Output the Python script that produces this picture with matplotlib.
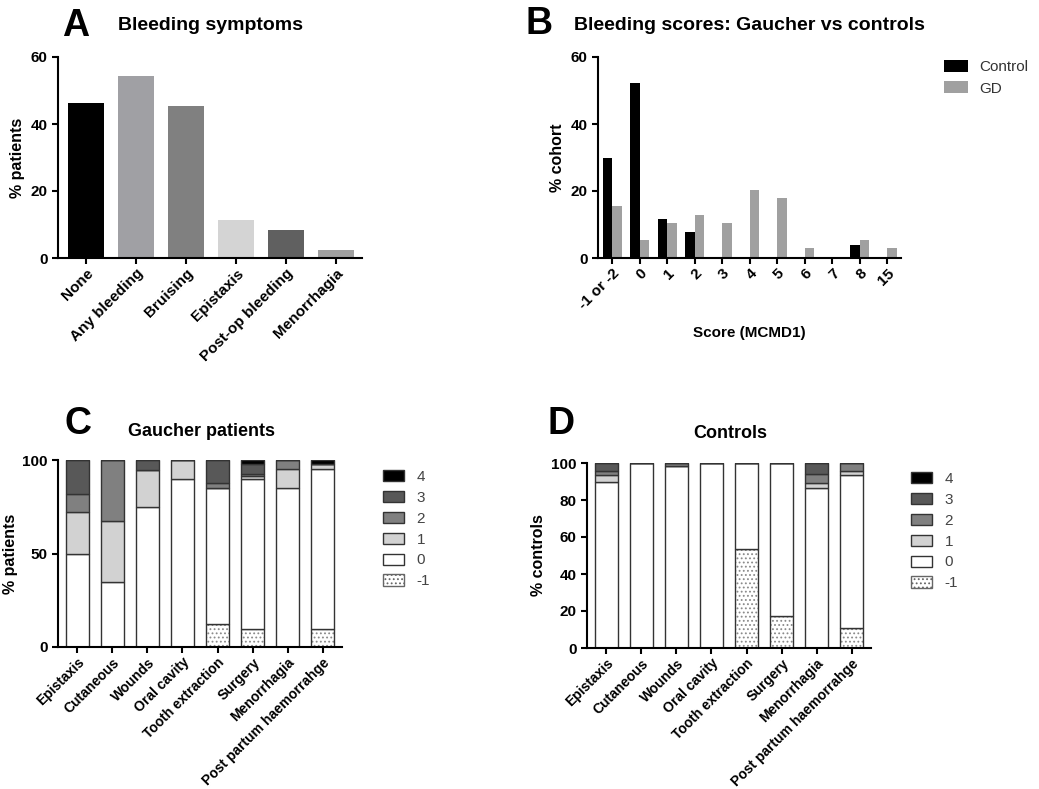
import matplotlib
matplotlib.use("Agg")
import matplotlib.pyplot as plt
import numpy as np
from matplotlib.patches import Patch

plt.rcParams['font.family'] = ['Liberation Sans', 'DejaVu Sans']
plt.rcParams['hatch.linewidth'] = 0.8

# panel A data
symptoms = ['None', 'Any bleeding', 'Bruising', 'Epistaxis', 'Post-op bleeding', 'Menorrhagia']
symptom_pct = [46.4, 54.2, 45.3, 11.3, 8.3, 2.4]
symptom_colors = ['#000000', '#a0a0a4', '#808080', '#d4d4d4', '#606060', '#a0a0a0']

# panel B data
scores = ['-1 or -2', '0', '1', '2', '3', '4', '5', '6', '7', '8', '15']
control_pct = [29.9, 52.1, 11.7, 7.8, 0, 0, 0, 0, 0, 4.0, 0]
gd_pct = [15.4, 5.5, 10.4, 12.8, 10.4, 20.3, 17.9, 3.0, 0, 5.5, 3.0]

# panels C and D data (score levels -1..4 stacked)
sites = ['Epistaxis', 'Cutaneous', 'Wounds', 'Oral cavity', 'Tooth extraction',
         'Surgery', 'Menorrhagia', 'Post partum haemorrahge']
levels = ['-1', '0', '1', '2', '3', '4']
gaucher = {
    '-1': [0, 0, 0, 0, 12.1, 9.5, 0, 9.5],
    '0':  [50.0, 34.8, 75.0, 90.0, 72.7, 80.5, 85.2, 85.9],
    '1':  [22.0, 32.6, 19.7, 10.0, 0, 1.2, 10.2, 2.3],
    '2':  [10.0, 32.6, 0, 0, 3.0, 1.3, 4.6, 0],
    '3':  [18.0, 0, 5.3, 0, 12.2, 5.3, 0, 0],
    '4':  [0, 0, 0, 0, 0, 2.2, 0, 2.3],
}
controls = {
    '-1': [0, 0, 0, 0, 53.3, 17.1, 0, 10.8],
    '0':  [89.6, 100, 98.2, 100, 46.7, 82.9, 86.7, 82.9],
    '1':  [3.9, 0, 0, 0, 0, 0, 2.5, 2.0],
    '2':  [2.2, 0, 1.8, 0, 0, 0, 4.7, 4.3],
    '3':  [4.3, 0, 0, 0, 0, 0, 6.1, 0],
    '4':  [0, 0, 0, 0, 0, 0, 0, 0],
}
level_colors = {'-1': '#ffffff', '0': '#ffffff', '1': '#d2d2d2',
                '2': '#808080', '3': '#585858', '4': '#000000'}

W, H = 1039, 789
fig = plt.figure(figsize=(W / 100, H / 100), dpi=100)


def px_axes(l, t, r, b):
    return fig.add_axes([l / W, 1 - b / H, (r - l) / W, (b - t) / H])


def style(ax, yticks, xticklabels, xsize=11):
    for s in ['top', 'right']:
        ax.spines[s].set_visible(False)
    for s in ['left', 'bottom']:
        ax.spines[s].set_linewidth(1.5)
    ax.set_yticks(yticks)
    ax.tick_params(width=1.5, length=4)
    ax.tick_params(axis='y', labelsize=11)
    ax.tick_params(axis='x', pad=2)
    for lab in ax.get_yticklabels():
        lab.set_fontweight('bold')
    ax.set_xticks(np.arange(len(xticklabels)))
    ax.set_xticklabels(xticklabels, rotation=45, ha='right', rotation_mode='anchor',
                       fontweight='bold', fontsize=xsize)


# ---- A ----
axA = px_axes(58, 57, 362, 258)
xa = np.arange(len(symptoms))
axA.bar(xa, symptom_pct, width=0.72, color=symptom_colors)
axA.set_xlim(-0.57, 5.52)
axA.set_ylim(0, 60)
style(axA, [0, 20, 40, 60], symptoms)
axA.set_ylabel('% patients', fontweight='bold', fontsize=11.5, labelpad=4)
fig.text(62 / W, 1 - 26 / H, 'A', fontsize=27, fontweight='bold', va='center')
fig.text(210 / W, 1 - 26 / H, 'Bleeding symptoms', fontsize=14, fontweight='bold',
         ha='center', va='center')

# ---- B ----
axB = px_axes(598, 57, 901, 258)
xb = np.arange(len(scores))
bw = 0.345
axB.bar(xb - bw / 2, control_pct, width=bw, color='#000000', label='Control')
axB.bar(xb + bw / 2, gd_pct, width=bw, color='#a0a0a0', label='GD')
axB.set_xlim(-0.51, 10.5)
axB.set_ylim(0, 60)
style(axB, [0, 20, 40, 60], scores)
axB.set_ylabel('% cohort', fontweight='bold', fontsize=11.5, labelpad=4)
axB.set_xlabel('Score (MCMD1)', fontweight='bold', fontsize=11, labelpad=10)
fig.text(525 / W, 1 - 24 / H, 'B', fontsize=27, fontweight='bold', va='center')
fig.text(749 / W, 1 - 26 / H, 'Bleeding scores: Gaucher vs controls', fontsize=14,
         fontweight='bold', ha='center', va='center')
fig.legend(handles=axB.get_legend_handles_labels()[0], labels=['Control', 'GD'],
           loc='upper left', bbox_to_anchor=(944 / W, 1 - 60 / H), frameon=False,
           fontsize=11, handlelength=1.6, handleheight=0.85, handletextpad=0.7,
           labelspacing=0.45, borderpad=0, borderaxespad=0, labelcolor='#333333')


def stacked(ax, data, yticks):
    x = np.arange(len(sites))
    bottom = np.zeros(len(sites))
    for lev in levels:
        vals = np.array(data[lev])
        if lev == '-1':
            ax.bar(x, vals, 0.65, bottom=bottom, color='white', edgecolor='#8a8a8a',
                   hatch='....', linewidth=0)
            ax.bar(x, vals, 0.65, bottom=bottom, fill=False, edgecolor='#333333',
                   linewidth=1.0)
        else:
            ax.bar(x, vals, 0.65, bottom=bottom, color=level_colors[lev],
                   edgecolor='#333333', linewidth=1.0)
        bottom += vals
    ax.set_xlim(-0.55, 7.55)
    ax.set_ylim(0, 100)
    style(ax, yticks, sites, xsize=10)


def level_legend(x, y):
    handles = []
    for lev in levels[::-1]:
        if lev == '-1':
            handles.append(Patch(facecolor='white', edgecolor='#666666', hatch='....',
                                 linewidth=1.0, label=lev))
        else:
            handles.append(Patch(facecolor=level_colors[lev], edgecolor='#333333',
                                 linewidth=1.0, label=lev))
    fig.legend(handles=handles, loc='upper left', bbox_to_anchor=(x / W, 1 - y / H),
               frameon=False, fontsize=11, handlelength=1.4, handleheight=0.75,
               handletextpad=0.8, labelspacing=0.45, borderpad=0, borderaxespad=0,
               labelcolor='#444444')


# ---- C ----
axC = px_axes(58, 460, 342, 647)
stacked(axC, gaucher, [0, 50, 100])
axC.set_ylabel('% patients', fontweight='bold', fontsize=11.5, labelpad=3)
fig.text(64 / W, 1 - 424 / H, 'C', fontsize=27, fontweight='bold', va='center')
fig.text(201 / W, 1 - 432 / H, 'Gaucher patients', fontsize=13, fontweight='bold',
         ha='center', va='center')
level_legend(383, 470)

# ---- D ----
axD = px_axes(587, 463, 871, 648)
stacked(axD, controls, [0, 20, 40, 60, 80, 100])
axD.set_ylabel('% controls', fontweight='bold', fontsize=11.5, labelpad=4)
fig.text(547 / W, 1 - 424 / H, 'D', fontsize=27, fontweight='bold', va='center')
fig.text(730 / W, 1 - 434 / H, 'Controls', fontsize=13, fontweight='bold',
         ha='center', va='center')
level_legend(911, 472)

fig.savefig('out.png', dpi=100)
